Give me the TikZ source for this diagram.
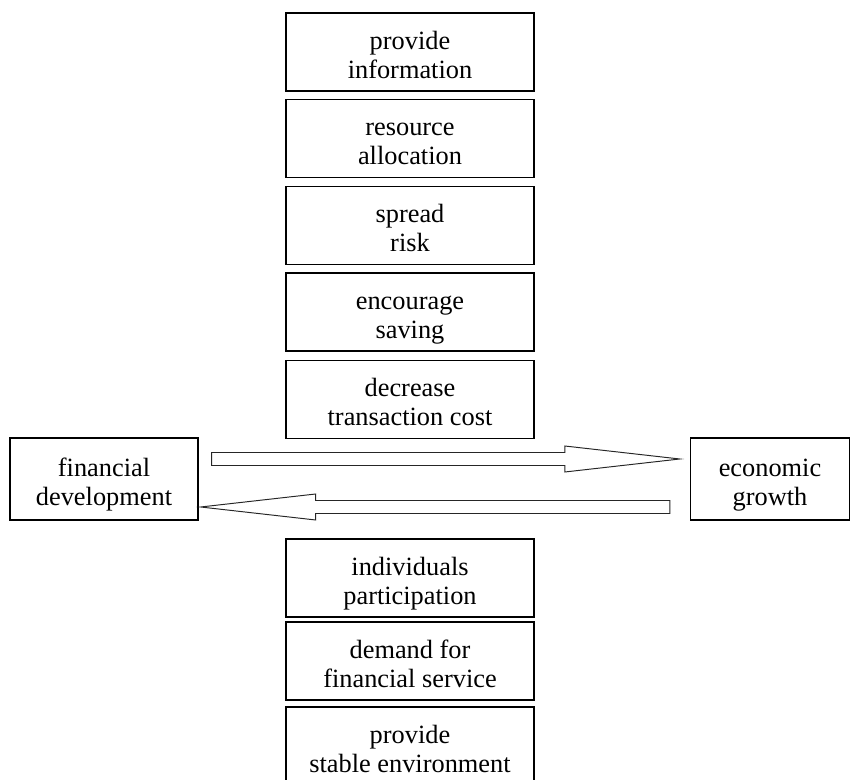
\documentclass[tikz,border=0pt]{standalone}
\usepackage{fontspec}
\setmainfont{Liberation Serif}
\usetikzlibrary{calc}

% two centred lines with fixed top and bottom room
\newcommand{\boxlines}[2]{\rule{0pt}{18.3pt}#1\\#2\strut}

\begin{document}
\begin{tikzpicture}[x=0.02cm, y=-0.02cm,
    box/.style={draw=black, line width=0.8pt, align=center,
        minimum width=4.96cm, minimum height=1.56cm, inner sep=0pt,
        font=\fontsize{15}{16.5}\selectfont},
    sidebox/.style={box, minimum height=1.64cm},
    bigarrow/.style={draw=black!85, line width=0.55pt, fill=white}]
                \useasboundingbox (0,0) rectangle (850,780);
                \clip (0,0) rectangle (850,780);

                % functions of the financial system
                \node[box] (info)   at (410, 52)    {\boxlines{provide}{information}};
                \node[box] (alloc)  at (410, 138.5) {\boxlines{resource}{allocation}};
                \node[box] (risk)   at (410, 225.5) {\boxlines{spread}{risk}};
                \node[box] (saving) at (410, 312)   {\boxlines{encourage}{saving}};
                \node[box] (cost)   at (410, 399.5) {\boxlines{decrease}{transaction cost}};

                \node[sidebox, minimum width=3.76cm] (fd) at (104, 479) {\boxlines{financial}{development}};
                \node[sidebox, minimum width=3.18cm] (eg) at (770, 479) {\boxlines{economic}{growth}};

                % growth feeds back
                \node[box] (indiv)  at (410, 578) {\boxlines{individuals}{participation}};
                \node[box] (demand) at (410, 661) {\boxlines{demand for}{financial service}};
                \node[box] (stable) at (410, 746) {\boxlines{provide}{stable environment}};

                % block arrows between the two sides
                \coordinate (rt) at ($(fd.east)+(13,-20)$);
                \coordinate (rh) at ($(eg.west)+(-10,-20)$);
                \draw[bigarrow] ($(rt)+(0,-6.5)$) -- ($(rh)+(-115,-6.5)$) -- ($(rh)+(-115,-13)$)
                    -- (rh) -- ($(rh)+(-115,13)$) -- ($(rh)+(-115,6.5)$) -- ($(rt)+(0,6.5)$) -- cycle;

                \coordinate (lt) at ($(eg.west)+(-20,28)$);
                \coordinate (lh) at ($(fd.east)+(2,28)$);
                \draw[bigarrow] ($(lt)+(0,-6.5)$) -- ($(lh)+(115,-6.5)$) -- ($(lh)+(115,-13)$)
                    -- (lh) -- ($(lh)+(115,13)$) -- ($(lh)+(115,6.5)$) -- ($(lt)+(0,6.5)$) -- cycle;
            \end{tikzpicture}
\end{document}
